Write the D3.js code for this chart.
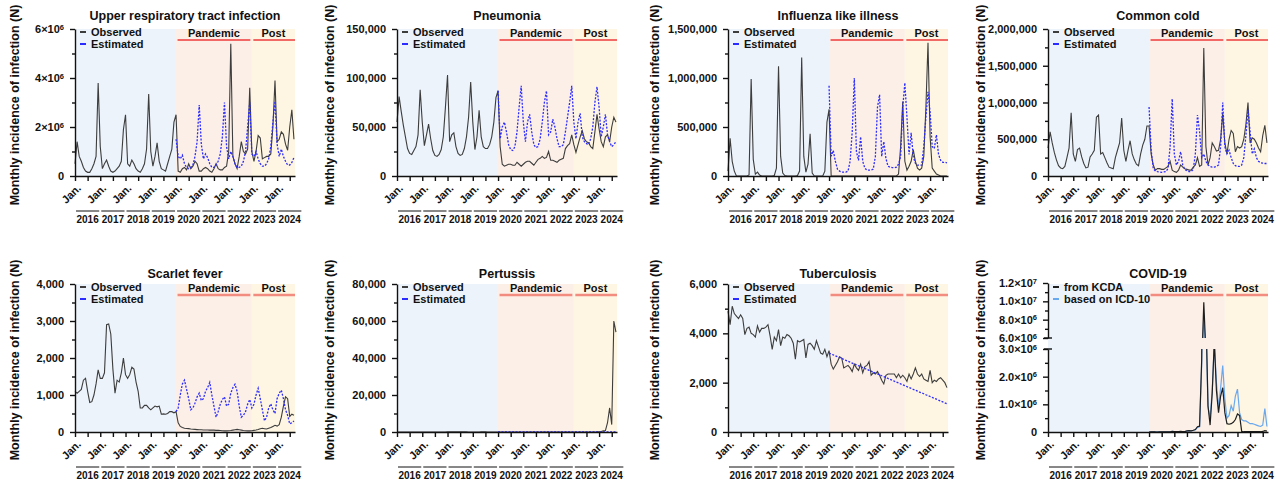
<!DOCTYPE html>
<html>
<head>
<meta charset="utf-8">
<script src="https://cdn.jsdelivr.net/npm/d3@7"></script>
<style>
body { margin: 0; background: #fff; }
text { font-family: "Liberation Sans", Arial, sans-serif; font-weight: bold; fill: #111; }
.axis path, .axis line { stroke: #111; stroke-width: 1.4; }
</style>
</head>
<body>
<div id="chart"></div>
<script>
// month index 0 = Jan 2016 ... 104 = Sep 2024
var years = ["2016", "2017", "2018", "2019", "2020", "2021", "2022", "2023", "2024"];
var janLabel = "Jan.";
var estStart = 48;          // estimates (and COVID series) start Jan 2020
var pandemicStart = 48;     // Jan 2020
var postStart = 84;         // Jan 2023
var periodNames = ["Pandemic", "Post"];

// Upper respiratory tract infection (x10^6)
var urtiObs = [
  0.5, 1.4, 0.8, 0.6, 0.35, 0.2, 0.15, 0.15, 0.3, 0.5, 0.8, 3.8,
  1.2, 0.3, 0.5, 0.65, 0.4, 0.2, 0.15, 0.2, 0.3, 0.4, 0.6, 1.9,
  2.5, 0.5, 0.4, 0.65, 0.5, 0.3, 0.2, 0.15, 0.3, 0.5, 1.1, 3.35,
  1.0, 0.4, 0.8, 1.35, 0.6, 0.3, 0.25, 0.2, 0.5, 0.8, 1.1, 2.2,
  2.5, 0.2, 0.15, 0.3, 0.35, 0.25, 0.5, 0.3, 0.4, 0.6, 0.5, 0.2,
  0.2, 0.3, 0.35, 0.3, 0.2, 0.15, 0.3, 0.5, 0.3, 0.25, 0.25, 0.35,
  0.4, 1.0, 5.4, 0.8, 0.5, 0.3, 0.8, 1.4, 1.0, 0.9, 1.1, 3.6,
  1.0, 0.6, 1.0, 1.65, 1.55, 0.7, 0.75, 0.8, 0.8, 0.9, 2.0, 3.9,
  1.4, 1.5, 1.8, 1.7, 1.3, 1.05, 2.0, 2.7, 1.5];
var urtiEst = [
  1.5, 0.8, 0.7, 0.85, 0.5, 0.35, 0.3, 0.35, 0.45, 0.8, 1.4, 2.9,
  1.3, 0.7, 0.9, 0.75, 0.5, 0.35, 0.35, 0.45, 0.6, 0.9, 1.6, 3.0,
  1.2, 0.7, 1.0, 0.8, 0.5, 0.35, 0.35, 0.4, 0.6, 1.0, 2.0, 3.0,
  0.9, 0.8, 1.0, 0.7, 0.5, 0.4, 0.4, 0.5, 0.7, 1.2, 2.2, 3.05,
  1.3, 0.8, 1.1, 0.8, 0.6, 0.45, 0.45, 0.55, 0.75];

// Pneumonia (thousands)
var pneuObs = [
  55, 81, 66, 52, 40, 28, 23, 22, 26, 30, 42, 88,
  55, 31, 42, 53, 38, 26, 21, 20, 22, 27, 40, 70,
  103, 35, 42, 44, 30, 23, 21, 22, 28, 40, 60, 96,
  55, 27, 40, 67, 40, 30, 28, 28, 32, 40, 55, 80,
  87, 30, 12, 10, 11, 12, 12, 11, 11, 14, 12, 10,
  12, 14, 15, 15, 13, 11, 14, 17, 18, 20, 18, 19,
  25, 16, 16, 15, 14, 16, 17, 18, 28, 31, 33, 42,
  32, 24, 32, 40, 46, 38, 35, 34, 30, 28, 45, 63,
  48, 35, 30, 40, 42, 35, 50, 60, 55];
var pneuEst = [
  87, 38, 50, 55, 45, 32, 27, 26, 30, 45, 70, 92,
  55, 35, 55, 63, 45, 32, 29, 30, 38, 55, 75, 87,
  42, 45, 58, 50, 38, 30, 30, 32, 45, 60, 75, 92,
  55, 38, 55, 64, 40, 35, 33, 32, 38, 50, 75, 91,
  70, 40, 50, 63, 42, 35, 30, 32, 35];

// Influenza like illness (thousands)
var fluObs = [
  50, 385, 150, 50, 0, 0, 0, 0, 0, 0, 10, 990,
  170, 20, 40, 10, 0, 0, 0, 0, 0, 0, 5, 80,
  1120, 200, 30, 5, 0, 0, 0, 0, 0, 5, 50, 1210,
  200, 40, 120, 430, 30, 0, 0, 0, 0, 0, 50, 550,
  680, 0, 0, 0, 0, 0, 0, 0, 0, 0, 0, 0,
  0, 0, 0, 0, 0, 0, 0, 0, 0, 0, 0, 0,
  0, 0, 0, 0, 0, 0, 0, 0, 0, 20, 300, 760,
  150, 60, 100, 150, 270, 150, 80, 60, 80, 200, 700, 1360,
  400, 80, 50, 20, 10, 0, 0, 0, 0];
var fluEst = [
  920, 200, 260, 150, 70, 50, 40, 40, 40, 50, 150, 450,
  1000, 250, 160, 400, 150, 80, 60, 60, 60, 70, 200, 700,
  830, 200, 350, 180, 100, 90, 85, 85, 90, 120, 200, 700,
  950, 600, 220, 440, 200, 130, 110, 110, 110, 300, 600, 860,
  650, 300, 280, 420, 220, 160, 140, 140, 135];

// Common cold (thousands)
var coldObs = [
  380, 600, 450, 320, 220, 140, 110, 100, 130, 250, 380, 860,
  300, 200, 360, 380, 260, 170, 110, 120, 260, 300, 350, 800,
  830, 300, 320, 250, 180, 120, 110, 100, 250, 350, 450, 790,
  350, 200, 350, 480, 300, 220, 160, 140, 300, 420, 500, 680,
  680, 300, 150, 80, 100, 100, 90, 90, 110, 130, 200, 80,
  60, 50, 80, 150, 120, 100, 90, 80, 80, 120, 150, 250,
  130, 150, 1740, 400, 150, 250, 450, 400, 340, 350, 500, 850,
  450, 300, 500, 620, 580, 330, 400, 380, 400, 500, 700, 1000,
  450, 520, 500, 450, 380, 330, 550, 690, 450];
var coldEst = [
  940, 350, 100, 70, 60, 55, 50, 55, 60, 100, 400, 1050,
  300, 150, 200, 330, 150, 90, 70, 60, 60, 90, 300, 830,
  600, 250, 300, 200, 150, 130, 120, 120, 130, 150, 400, 1000,
  400, 300, 350, 250, 170, 140, 130, 130, 150, 250, 550, 900,
  600, 300, 370, 250, 200, 180, 175, 170, 170];

// Scarlet fever
var scarObs = [
  1100, 1050, 1100, 1150, 1400, 1450, 1100, 800, 820, 1000, 1300, 1680,
  1450, 1450, 1600, 2900, 2920, 2650, 1700, 1050, 1400, 1350, 1600, 2000,
  1550, 1450, 1550, 1750, 1700, 1350, 1100, 650, 650, 720, 720, 650,
  600, 650, 700, 680, 700, 480, 490, 480, 500, 550, 550, 520,
  550, 250, 150, 120, 100, 95, 90, 80, 75, 70, 65, 60,
  60, 55, 55, 55, 50, 50, 50, 45, 45, 40, 35, 30,
  30, 35, 40, 50, 60, 70, 60, 50, 40, 35, 30, 30,
  35, 45, 55, 70, 90, 100, 90, 80, 100, 120, 150, 180,
  160, 200, 400, 700, 950, 900, 420, 480, 450];
var scarEst = [
  550, 650, 1000, 1300, 1400, 1150, 900, 600, 650, 780, 950, 1050,
  850, 900, 1100, 1200, 1340, 1000, 700, 400, 550, 750, 880, 950,
  700, 750, 1050, 1200, 1290, 1100, 700, 400, 450, 550, 750, 880,
  650, 750, 1000, 1180, 900, 600, 300, 400, 650, 760, 600, 500,
  900, 1050, 1130, 900, 600, 450, 220, 250, 300];

// Pertussis
var pertObs = [
  10, 12, 15, 12, 20, 25, 30, 25, 20, 15, 12, 10,
  20, 25, 30, 35, 30, 40, 35, 30, 25, 20, 25, 30,
  60, 70, 80, 90, 100, 110, 100, 80, 60, 50, 40, 40,
  30, 30, 35, 40, 45, 50, 50, 40, 30, 25, 20, 20,
  15, 10, 8, 5, 5, 4, 4, 3, 3, 3, 2, 2,
  2, 2, 2, 2, 2, 2, 2, 1, 1, 1, 1, 1,
  1, 1, 1, 2, 2, 2, 2, 3, 3, 3, 4, 4,
  5, 6, 8, 10, 12, 15, 20, 25, 30, 35, 40, 50,
  100, 300, 600, 800, 5000, 13000, 4000, 60000, 54000];
var pertEst = [
  40, 35, 30, 30, 35, 40, 45, 40, 35, 30, 30, 35,
  45, 40, 35, 35, 40, 45, 50, 45, 40, 35, 35, 40,
  50, 45, 40, 40, 45, 50, 55, 50, 45, 40, 40, 45,
  55, 50, 45, 45, 50, 55, 60, 55, 50, 45, 45, 50,
  60, 55, 50, 50, 55, 60, 65, 60, 55];

// Tuberculosis
var tbObs = [
  4900, 4350, 5100, 4800, 4700, 4600, 4750, 4600, 3950, 4200, 4250, 4000,
  3950, 3850, 4300, 4050, 4200, 4200, 4250, 4350, 3900, 3350, 3850, 3700,
  4150, 3500, 3850, 3800, 3950, 3900, 3800, 3600, 2950, 3700, 3650, 3700,
  3750, 3000, 3550, 3600, 3500, 3350, 3700, 3450, 3200, 3150, 3350, 3050,
  3300, 2750, 2550, 2700, 2850, 3050, 3000, 2600, 2650, 2700, 2600, 2450,
  2750, 2600, 2500, 2750, 2400, 2650, 2700, 2850, 2300, 2400, 2350, 2450,
  2300, 2100, 1950, 2300, 2350, 2350, 2350, 2350, 2200, 2350, 2200, 2300,
  2200, 2050, 2350, 2150, 2350, 2600, 2350, 2250, 2350, 2150, 2100, 2050,
  2500, 2000, 2100, 2050, 2150, 2200, 2100, 2000, 1800];
var tbEst = [
  3200, 3160, 3125, 3090, 3050, 3015, 2980, 2940, 2905, 2870, 2830, 2795,
  2760, 2720, 2685, 2650, 2610, 2575, 2540, 2500, 2465, 2430, 2390, 2355,
  2320, 2280, 2245, 2210, 2170, 2135, 2100, 2060, 2025, 1990, 1950, 1915,
  1880, 1840, 1805, 1770, 1730, 1695, 1660, 1620, 1585, 1550, 1510, 1475,
  1440, 1400, 1365, 1330, 1290, 1255, 1220, 1180, 1150];

// COVID-19 (x10^6), from Jan 2020
var covidKcda = [
  0.00001, 0.003, 0.007, 0.001, 0.0007, 0.001, 0.0015, 0.005, 0.004, 0.003, 0.008, 0.026,
  0.018, 0.012, 0.013, 0.019, 0.018, 0.016, 0.041, 0.053, 0.044, 0.062, 0.089, 0.19,
  0.21, 2.6, 9.9, 4.4, 0.95, 0.25, 1.4, 3.3, 1.5, 0.7, 1.3, 1.6,
  0.7, 0.3, 0.28, 0.3, 0.35, 0.45, 0.65, 0.6, 0.02, 0.01, 0.01, 0.01,
  0.01, 0.01, 0.01, 0.01, 0.01, 0.01, 0.02, 0.05, 0.03];
var covidIcd = [
  0.00001, 0.002, 0.005, 0.001, 0.001, 0.001, 0.001, 0.004, 0.003, 0.002, 0.006, 0.02,
  0.015, 0.01, 0.011, 0.016, 0.015, 0.014, 0.035, 0.045, 0.038, 0.055, 0.08, 0.17,
  0.19, 2.4, 8.5, 4.0, 0.9, 0.5, 1.5, 3.2, 1.8, 0.9, 1.6, 2.4,
  1.2, 0.5, 0.6, 0.95, 0.75, 1.3, 1.55, 0.7, 0.45, 0.4, 0.4, 0.35,
  0.3, 0.3, 0.28, 0.25, 0.22, 0.2, 0.25, 0.85, 0.2];

// ---------------- layout
var svgWidth = 1279, svgHeight = 483;
var colX = [75, 397, 728, 1048];
var plotW = 220;
var rows = [{top: 29, bottom: 176, title: 20, yMid: 105}, {top: 284, bottom: 432, title: 278, yMid: 360}];
var yTitleX = [15, 330, 655, 981];
var bandColors = ["#ecf3fb", "#fcefe7", "#fef6e2"];
var redLine = [{c: "#ee3b3b", w: 1.5}, {c: "#f28b80", w: 2.6}];
var obsColor = "#3d3d3d", estColor = "#2b2bff";

var comma = d3.format(",");
function commaLabel(unit) { return function(d) { return [comma(d * unit)]; }; }
function sciLabel(d) { return d === 0 ? ["0"] : [d + "×10", "6"]; }

var panels = [
  {title: "Upper respiratory tract infection", obs: urtiObs, est: urtiEst, major: [0, 2, 4, 6], minor: [1, 3, 5], label: sciLabel},
  {title: "Pneumonia", obs: pneuObs, est: pneuEst, major: [0, 50, 100, 150], minor: [25, 75, 125], label: commaLabel(1000)},
  {title: "Influenza like illness", obs: fluObs, est: fluEst, major: [0, 500, 1000, 1500], minor: [250, 750, 1250], label: commaLabel(1000)},
  {title: "Common cold", obs: coldObs, est: coldEst, major: [0, 500, 1000, 1500, 2000], minor: [250, 750, 1250, 1750], label: commaLabel(1000)},
  {title: "Scarlet fever", obs: scarObs, est: scarEst, major: [0, 1000, 2000, 3000, 4000], minor: [500, 1500, 2500, 3500], label: commaLabel(1)},
  {title: "Pertussis", obs: pertObs, est: pertEst, major: [0, 20000, 40000, 60000, 80000], minor: [10000, 30000, 50000, 70000], label: commaLabel(1)},
  {title: "Tuberculosis", obs: tbObs, est: tbEst, major: [0, 2000, 4000, 6000], minor: [1000, 3000, 5000], label: commaLabel(1)},
  {title: "COVID-19", covid: true}
];

var svg = d3.select("#chart").append("svg")
    .attr("width", svgWidth)
    .attr("height", svgHeight);

var xMax = 104.5;
var x = d3.scaleLinear().domain([0, xMax]).range([0, plotW]);

function drawYAxis(g, y, major, minor, label) {
    var ax = g.append("g").attr("class", "axis")
        .call(d3.axisLeft(y).tickValues(major).tickSize(5).tickSizeOuter(0).tickPadding(6).tickFormat(""))
        .attr("font-size", 11);
    ax.selectAll(".tick text").each(function(d) {
        var parts = label(d);
        var t = d3.select(this);
        t.append("tspan").text(parts[0]);
        if (parts[1]) t.append("tspan").attr("dy", "-0.45em").attr("font-size", "7.5px").text(parts[1]);
    });
    g.append("g").attr("class", "axis")
        .call(d3.axisLeft(y).tickValues(minor).tickSize(3).tickFormat(""))
        .select(".domain").remove();
}

function drawLegend(g, items) {
    items.forEach(function(it, i) {
        var cy = 3 + i * 12;
        g.append("line").attr("x1", 5).attr("x2", 11).attr("y1", cy).attr("y2", cy)
            .attr("stroke", it.color).attr("stroke-width", 2);
        g.append("text").attr("x", 16).attr("y", cy).attr("dy", "0.35em")
            .attr("font-size", 11).text(it.name);
    });
}

panels.forEach(function(p, k) {
    var col = k % 4, row = Math.floor(k / 4);
    var R = rows[row];
    var h = R.bottom - R.top;
    var g = svg.append("g").attr("transform", `translate(${colX[col]}, ${R.top})`);

    // background periods
    var bands = [[0, pandemicStart], [pandemicStart, postStart], [postStart, xMax]];
    g.selectAll(".band").data(bands).enter().append("rect")
        .attr("x", d => x(d[0]))
        .attr("width", d => x(d[1]) - x(d[0]))
        .attr("y", 0).attr("height", h)
        .attr("fill", (d, i) => bandColors[i]);

    // period labels
    var periods = [[pandemicStart, postStart], [postStart, xMax]];
    periods.forEach(function(d, i) {
        g.append("text").attr("x", (x(d[0]) + x(d[1])) / 2).attr("y", 8)
            .attr("text-anchor", "middle").attr("font-size", 11).text(periodNames[i]);
        g.append("line").attr("x1", x(d[0]) + 1.5).attr("x2", x(d[1]) - (i === 1 ? 0 : 1.5))
            .attr("y1", 11).attr("y2", 11)
            .attr("stroke", redLine[row].c).attr("stroke-width", redLine[row].w);
    });

    var line;
    if (!p.covid) {
        var y = d3.scaleLinear().domain([0, p.major[p.major.length - 1]]).range([h, 0]);
        line = d3.line().x(d => x(d[0])).y(d => y(d[1]));
        g.append("path")
            .attr("d", line(p.obs.map((v, i) => [i, v])))
            .attr("fill", "none").attr("stroke", obsColor).attr("stroke-width", 1.1);
        g.append("path")
            .attr("d", line(p.est.map((v, i) => [i + estStart, v])))
            .attr("fill", "none").attr("stroke", estColor).attr("stroke-width", 1.3)
            .attr("stroke-dasharray", "2,1.5");
        drawYAxis(g, y, p.major, p.minor, p.label);
        drawLegend(g, [{name: "Observed", color: obsColor}, {name: "Estimated", color: estColor}]);
    } else {
        // broken y axis
        var upTop = -1, upBot = 54, loTop = 65;
        var yUp = d3.scaleLinear().domain([6, 12]).range([upBot, upTop]);
        var yLo = d3.scaleLinear().domain([0, 3]).range([h, loTop]);
        var defs = svg.append("defs");
        defs.append("clipPath").attr("id", "clipUp").append("rect")
            .attr("x", 0).attr("y", upTop - 2).attr("width", plotW).attr("height", upBot - upTop + 2);
        defs.append("clipPath").attr("id", "clipLo").append("rect")
            .attr("x", 0).attr("y", loTop).attr("width", plotW).attr("height", h - loTop + 2);
        var series = [{data: covidIcd, color: "#6aa8ee"}, {data: covidKcda, color: "#1e1e1e"}];
        [[yUp, "clipUp"], [yLo, "clipLo"]].forEach(function(s) {
            var ln = d3.line().x(d => x(d[0])).y(d => s[0](d[1]));
            var cg = g.append("g").attr("clip-path", `url(#${s[1]})`);
            series.forEach(function(se) {
                cg.append("path")
                    .attr("d", ln(se.data.map((v, i) => [i + estStart, v])))
                    .attr("fill", "none").attr("stroke", se.color).attr("stroke-width", 1.2);
            });
        });
        drawYAxis(g, yUp, [6, 8, 10, 12], [7, 9, 11], function(d) {
            return d >= 10 ? [d3.format(".1f")(d / 10) + "×10", "7"] : [d3.format(".1f")(d) + "×10", "6"];
        });
        drawYAxis(g, yLo, [0, 1, 2, 3], [0.5, 1.5, 2.5], function(d) {
            return d === 0 ? ["0"] : [d3.format(".1f")(d) + "×10", "6"];
        });
        g.append("line").attr("x1", -4).attr("x2", 4).attr("y1", upBot).attr("y2", upBot)
            .attr("stroke", "#111").attr("stroke-width", 1.4);
        g.append("line").attr("x1", -4).attr("x2", 4).attr("y1", loTop).attr("y2", loTop)
            .attr("stroke", "#111").attr("stroke-width", 1.4);
        drawLegend(g, [{name: "from KCDA", color: "#1e1e1e"}, {name: "based on ICD-10", color: "#6aa8ee"}]);
    }

    // x axis
    g.append("g").attr("class", "axis")
        .attr("transform", `translate(0, ${h})`)
        .call(d3.axisBottom(x).tickValues(d3.range(0, 104, 6)).tickSize(5).tickSizeOuter(0).tickFormat(""));

    g.selectAll(".jan").data(years).enter().append("text")
        .attr("transform", (d, i) => `translate(${x(i * 12) + 4}, ${h + 10}) rotate(-45)`)
        .attr("text-anchor", "end").attr("dy", "0.35em")
        .attr("font-size", 11).text(janLabel);

    g.selectAll(".yearbar").data(years).enter().append("line")
        .attr("x1", (d, i) => x(i * 12) + 1)
        .attr("x2", (d, i) => x(i * 12 + 12) - 1)
        .attr("y1", h + 35).attr("y2", h + 35)
        .attr("stroke", "#111").attr("stroke-width", 1);
    g.selectAll(".year").data(years).enter().append("text")
        .attr("x", (d, i) => x(i * 12 + 6))
        .attr("y", h + 47)
        .attr("text-anchor", "middle").attr("font-size", 10).text(d => d);

    // titles
    svg.append("text").attr("x", colX[col] + plotW / 2).attr("y", R.title)
        .attr("text-anchor", "middle").attr("font-size", 12.5).text(p.title);
    svg.append("text")
        .attr("transform", `translate(${yTitleX[col]}, ${R.yMid}) rotate(-90)`)
        .attr("text-anchor", "middle").attr("dy", "0.35em")
        .attr("font-size", 12.5).text("Monthly incidence of infection (N)");
});
</script>
</body>
</html>
